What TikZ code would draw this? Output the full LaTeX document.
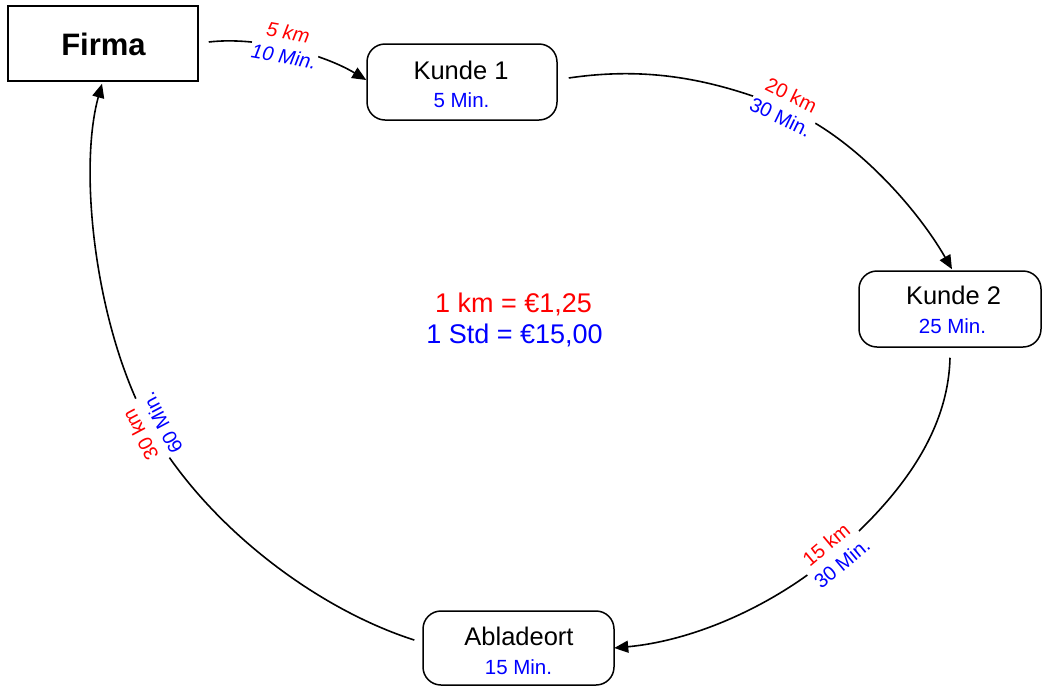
\documentclass[tikz,border=0pt]{standalone}
\usepackage{fontspec}
\setmainfont{Liberation Sans}
\usetikzlibrary{arrows.meta,calc}
\begin{document}
\begin{tikzpicture}[x=1pt,y=-1pt,
  boxshape/.style={draw, line width=1.5pt, rounded corners=18pt, inner sep=0pt},
  maintxt/.style={font=\fontsize{25.5}{30}\selectfont, inner sep=0pt, anchor=base},
  subtxt/.style={font=\fontsize{20.5}{24}\selectfont, text=blue, inner sep=0pt, anchor=base},
  edgelbl/.style={fill=white, align=center, inner sep=1pt, font=\fontsize{20}{24.5}\selectfont},
  conn/.style={line width=1.6pt, -{Triangle[length=14pt,width=12pt]}}]
\useasboundingbox (0,0) rectangle (1042,686);

% boxes
\node[boxshape, rounded corners=0pt, minimum width=190pt, minimum height=75pt] (firma) at (103,43.5) {};
\node[font=\bfseries\fontsize{31}{36}\selectfont, anchor=base, inner sep=0pt] (firmat) at (103.5,55) {Firma};

\node[boxshape, minimum width=190pt, minimum height=76pt] (k1) at (462,82) {};
\node[maintxt] (k1t) at (461,79) {Kunde 1};
\node[subtxt] (k1s) at (461.5,107) {5 Min.};

\node[boxshape, minimum width=182pt, minimum height=76pt] (k2) at (950,309) {};
\node[maintxt] (k2t) at (953.5,304) {Kunde 2};
\node[subtxt] (k2s) at (952.5,333) {25 Min.};

\node[boxshape, minimum width=191pt, minimum height=74pt] (abl) at (518.5,648) {};
\node[maintxt] (ablt) at (519,645) {Abladeort};
\node[subtxt] (abls) at (518.5,674) {15 Min.};

% rates
\node[font=\fontsize{27}{31}\selectfont, text=red, anchor=base, inner sep=0pt] (rate1) at (513.5,312) {1 km = €1,25};
\node[font=\fontsize{27}{31}\selectfont, text=blue, anchor=base, inner sep=0pt] (rate2) at (514.5,343) {1 Std = €15,00};

% connectors
\draw[conn] ($(firma.east)+(10,-1.5)$) .. controls (260,36) and (325,55) .. ($(k1.west)+(0,-2)$);
\draw[conn] ($(k1.east)+(11,-4)$) .. controls (650,66) and (715,80) .. (785,108)
            .. controls (850,134) and (915,205) .. ($(k2.north)+(2,-1)$);
\draw[conn] ($(k2.south)+(0,10)$) .. controls (948,440) and (890,505) .. (834,554)
            .. controls (780,601) and (700,640) .. ($(abl.east)+(-0.5,0)$);
\draw[conn] ($(abl.west)+(-8,-8)$) .. controls (320,610) and (210,530) .. (151,429)
            .. controls (95,330) and (78,170) .. ($(firma.south)+(-1,2)$);

% edge labels
\node[edgelbl, rotate=-10, font=\itshape\fontsize{20}{24.5}\selectfont] (l1) at (286,44.5) {\textcolor{red}{5 km}\\\textcolor{blue}{10 Min.}};
\node[edgelbl, rotate=-26] (l2) at (786,106) {\textcolor{red}{20 km}\\\textcolor{blue}{30 Min.}};
\node[edgelbl, rotate=40] (l3) at (834,554) {\textcolor{red}{15 km}\\\textcolor{blue}{30 Min.}};
\node[edgelbl, rotate=118] (l4) at (151,429) {\textcolor{red}{30 km}\\\textcolor{blue}{60 Min.}};
\end{tikzpicture}
\end{document}
